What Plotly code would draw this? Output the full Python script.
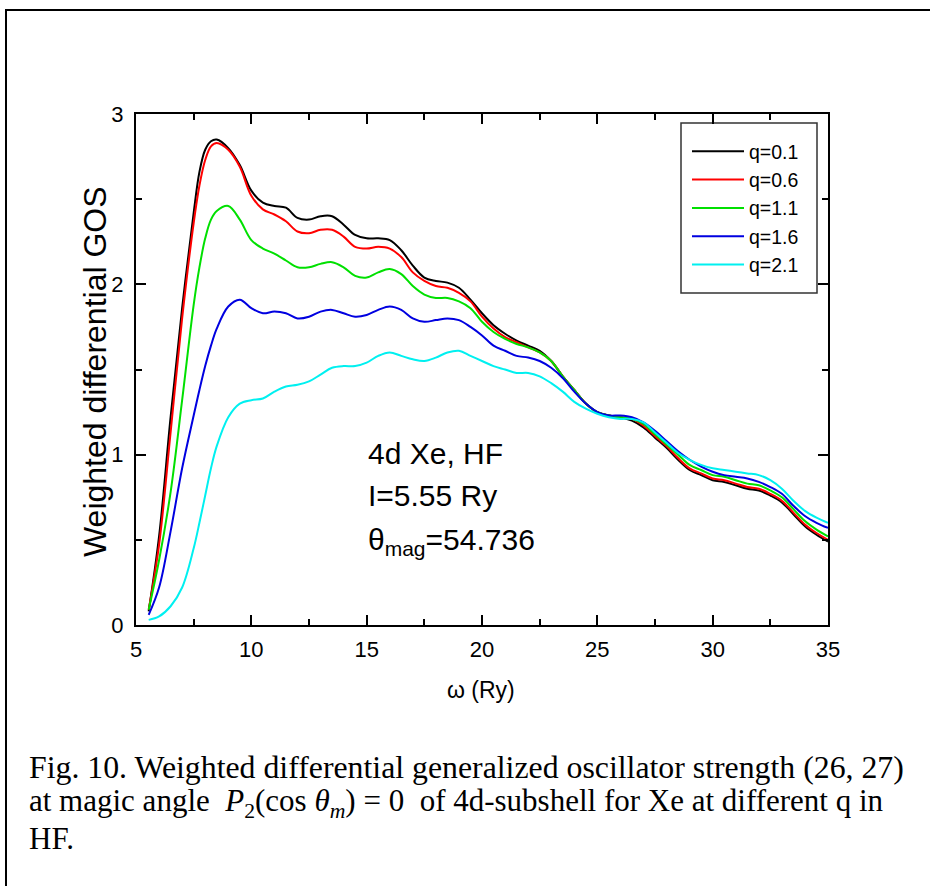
import plotly.graph_objects as go

omega = [5.55, 6.0, 6.5, 7.0, 7.5, 7.75, 8.0, 8.25, 8.5, 9.0, 9.5, 10.0, 10.5, 11.0, 11.5, 12.0, 12.5,
         13.0, 13.5, 14.0, 14.5, 15.0, 15.5, 16.0, 16.5, 17.0, 17.5, 18.0, 18.5, 19.0, 19.5,
         20.0, 20.5, 21.0, 21.5, 22.0, 22.5, 23.0, 23.5, 24.0, 24.5, 25.0, 25.5, 26.0, 26.5,
         27.0, 27.5, 28.0, 28.5, 29.0, 29.5, 30.0, 30.5, 31.0, 31.5, 32.0, 32.5, 33.0, 33.5,
         34.0, 34.5, 35.0]

q01 = [0.08, 0.52, 1.22, 1.86, 2.42, 2.66, 2.79, 2.84, 2.85, 2.80, 2.70, 2.55, 2.48, 2.46, 2.45, 2.39, 2.38,
       2.40, 2.40, 2.35, 2.29, 2.27, 2.27, 2.26, 2.20, 2.11, 2.04, 2.02, 2.01, 1.98, 1.91,
       1.83, 1.76, 1.71, 1.67, 1.64, 1.61, 1.55, 1.46, 1.38, 1.30, 1.25, 1.23, 1.22, 1.20,
       1.16, 1.10, 1.04, 0.97, 0.91, 0.88, 0.85, 0.84, 0.82, 0.80, 0.79, 0.76, 0.72, 0.65,
       0.58, 0.53, 0.49]
q06 = [0.09, 0.47, 1.13, 1.80, 2.36, 2.58, 2.73, 2.81, 2.83, 2.79, 2.69, 2.52, 2.44, 2.41, 2.37, 2.31, 2.30,
       2.32, 2.32, 2.28, 2.22, 2.21, 2.22, 2.21, 2.16, 2.07, 2.02, 1.99, 1.98, 1.95, 1.90,
       1.81, 1.74, 1.69, 1.66, 1.63, 1.60, 1.55, 1.46, 1.38, 1.30, 1.25, 1.23, 1.22, 1.21,
       1.17, 1.11, 1.05, 0.98, 0.92, 0.89, 0.86, 0.85, 0.83, 0.81, 0.80, 0.77, 0.73, 0.66,
       0.59, 0.54, 0.50]
q11 = [0.09, 0.38, 0.78, 1.32, 1.88, 2.10, 2.27, 2.38, 2.43, 2.46, 2.38, 2.26, 2.21, 2.18, 2.14, 2.10, 2.10,
       2.12, 2.13, 2.10, 2.05, 2.04, 2.07, 2.09, 2.06, 1.99, 1.94, 1.92, 1.92, 1.90, 1.86,
       1.78, 1.72, 1.68, 1.65, 1.63, 1.60, 1.55, 1.46, 1.38, 1.30, 1.25, 1.23, 1.22, 1.21,
       1.18, 1.12, 1.06, 1.00, 0.94, 0.91, 0.88, 0.87, 0.85, 0.83, 0.82, 0.79, 0.75, 0.68,
       0.61, 0.56, 0.52]
q16 = [0.06, 0.22, 0.55, 0.92, 1.23, 1.38, 1.52, 1.64, 1.74, 1.87, 1.91, 1.86, 1.83, 1.84, 1.83, 1.80, 1.81,
       1.84, 1.85, 1.83, 1.81, 1.82, 1.85, 1.87, 1.85, 1.80, 1.78, 1.79, 1.80, 1.79, 1.75,
       1.70, 1.64, 1.61, 1.58, 1.57, 1.55, 1.51, 1.45, 1.37, 1.30, 1.25, 1.23, 1.23, 1.22,
       1.19, 1.14, 1.08, 1.02, 0.97, 0.93, 0.90, 0.88, 0.87, 0.86, 0.84, 0.81, 0.77, 0.70,
       0.64, 0.60, 0.57]
q21 = [0.03, 0.05, 0.11, 0.22, 0.45, 0.60, 0.76, 0.92, 1.05, 1.22, 1.30, 1.32, 1.33, 1.37, 1.40, 1.41, 1.43,
       1.47, 1.51, 1.52, 1.52, 1.54, 1.58, 1.60, 1.58, 1.56, 1.55, 1.57, 1.60, 1.61, 1.58,
       1.55, 1.52, 1.50, 1.48, 1.48, 1.46, 1.42, 1.37, 1.31, 1.27, 1.24, 1.22, 1.21, 1.21,
       1.19, 1.13, 1.07, 1.01, 0.97, 0.94, 0.92, 0.91, 0.90, 0.89, 0.88, 0.85, 0.80, 0.73,
       0.67, 0.63, 0.60]

series_names = ["q=0.1", "q=0.6", "q=1.1", "q=1.6", "q=2.1"]
series_values = [q01, q06, q11, q16, q21]
series_colors = ["#000000", "#ff0000", "#00e000", "#0000e0", "#00f0f0"]

x_ticks = [5, 10, 15, 20, 25, 30, 35]
y_ticks = [0, 1, 2, 3]

fig = go.Figure()
for i, (name, vals, col) in enumerate(zip(series_names, series_values, series_colors)):
    fig.add_trace(go.Scatter(
        x=omega, y=vals, name=name, mode="lines",
        line=dict(color=col, width=2, shape="spline", smoothing=1.0),
        legendgroup=f"g{i}",
    ))

FONT = "Liberation Sans"
SERIF = "Liberation Serif"

axis_common = dict(
    showgrid=False, zeroline=False, showline=True, linecolor="black", linewidth=2,
    mirror="ticks", ticks="inside", ticklen=10, tickwidth=1.5, tickcolor="black",
    tickfont=dict(family=FONT, size=22, color="black"),
)

def px_x(px):
    return (px - 136) / 692.0

def px_y(py):
    return (625 - py) / 511.0

fig.update_layout(
    width=930, height=886,
    margin=dict(l=136, r=102, t=114, b=261),
    paper_bgcolor="white", plot_bgcolor="white",
    font=dict(family=FONT, color="black", size=16),
    showlegend=True,
    legend=dict(
        x=px_x(687), y=px_y(132), xanchor="left", yanchor="top",
        borderwidth=0, bgcolor="rgba(0,0,0,0)",
        font=dict(family=FONT, size=19.5, color="black"),
        tracegroupgap=0, itemwidth=52,
    ),
    xaxis=dict(range=[5, 35], tickvals=x_ticks, ticktext=[str(v) for v in x_ticks],
               minor=dict(dtick=2.5, tick0=5, ticks="inside", ticklen=6, tickwidth=1.5,
                          tickcolor="black", showgrid=False),
               ticklabelstandoff=4, **axis_common),
    yaxis=dict(range=[0, 3], tickvals=y_ticks, ticktext=[str(v) for v in y_ticks],
               minor=dict(dtick=0.5, tick0=0, ticks="inside", ticklen=6, tickwidth=1.5,
                          tickcolor="black", showgrid=False),
               ticklabelstandoff=6, **axis_common),
)

# outer frame
fig.add_shape(type="rect", xref="paper", yref="paper",
              x0=px_x(6), x1=px_x(960), y0=px_y(920), y1=px_y(10),
              line=dict(color="black", width=2), layer="below")
# legend box
fig.add_shape(type="rect", xref="paper", yref="paper",
              x0=px_x(681), x1=px_x(817), y0=px_y(293), y1=px_y(123),
              line=dict(color="#333333", width=1.5), fillcolor="white", layer="below")

annotations = [
    dict(text="Weighted differential GOS", x=px_x(95), y=px_y(372), textangle=-90,
         font=dict(family=FONT, size=32, color="black")),
    dict(text="ω (Ry)", x=px_x(481), y=px_y(690),
         font=dict(family=FONT, size=23, color="black")),
    dict(text="4d Xe, HF", x=px_x(366), y=px_y(453), xanchor="left",
         font=dict(family=FONT, size=30, color="black")),
    dict(text="I=5.55 Ry", x=px_x(366), y=px_y(495), xanchor="left",
         font=dict(family=FONT, size=30, color="black")),
    dict(text="θ<sub>mag</sub>=54.736", x=px_x(366), y=px_y(541), xanchor="left",
         font=dict(family=FONT, size=30, color="black")),
    dict(text="Fig. 10. Weighted differential generalized oscillator strength (26, 27)",
         x=px_x(27), y=px_y(767), xanchor="left",
         font=dict(family=SERIF, size=31.8, color="black")),
    dict(text="at magic angle  <i>P</i><sub>2</sub>(cos <i>θ</i><sub><i>m</i></sub>) = 0  of 4d-subshell for Xe at different q in",
         x=px_x(27), y=px_y(803), xanchor="left",
         font=dict(family=SERIF, size=31, color="black")),
    dict(text="HF.", x=px_x(27), y=px_y(838), xanchor="left",
         font=dict(family=SERIF, size=31, color="black")),
]
for a in annotations:
    a.setdefault("xanchor", "center")
    fig.add_annotation(xref="paper", yref="paper", showarrow=False, yanchor="middle", **a)

fig.write_html("out.html")
